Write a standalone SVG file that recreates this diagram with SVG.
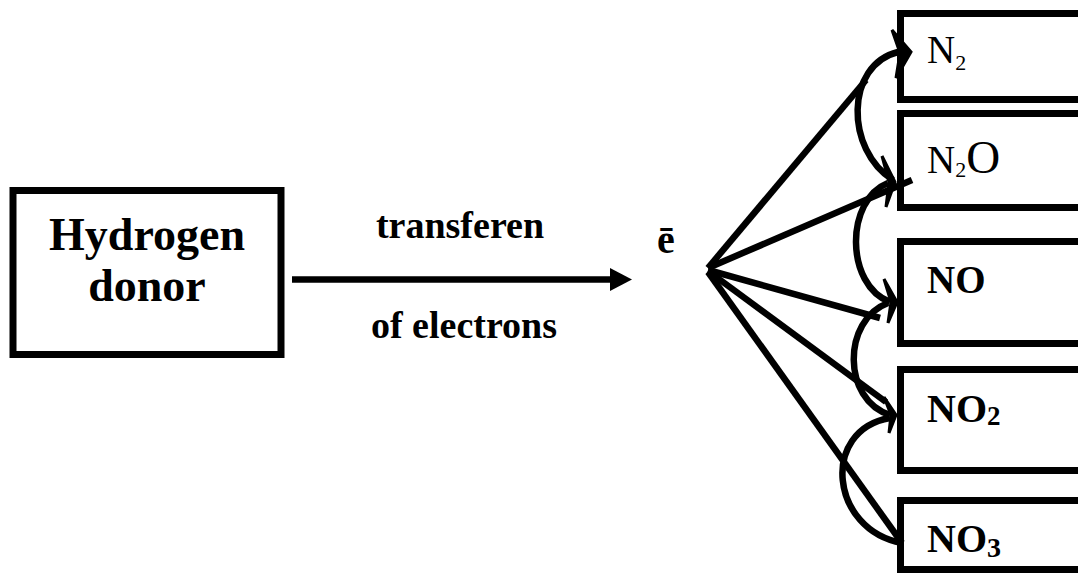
<svg xmlns="http://www.w3.org/2000/svg" width="1078" height="574" viewBox="0 0 1078 574">
<style>
.box{fill:#fff;stroke:#000;stroke-width:7}
.ln{fill:none;stroke:#000;stroke-width:6.5}
.ah{fill:#000;stroke:#000;stroke-width:3;stroke-linejoin:miter}
.t{font-family:"Liberation Serif","Times New Roman",serif;fill:#000}
.b{font-weight:bold}
</style>
<rect width="1078" height="574" fill="#fff"/>
<g id="hydrogen-donor">
<rect class="box" x="13" y="190.5" width="268" height="164" stroke-width="7.5"/>
<text class="t b" x="147" y="250" font-size="46" text-anchor="middle">Hydrogen</text>
<text class="t b" x="147" y="301" font-size="46" text-anchor="middle">donor</text>
</g>
<g id="n2">
<rect class="box" x="900.5" y="13.5" width="200" height="86"/>
<text class="t" x="927" y="63" font-size="39">N<tspan font-size="22" dy="7">2</tspan></text>
</g>
<g id="n2o">
<rect class="box" x="900.5" y="113.5" width="200" height="94"/>
<text class="t" x="927" y="173" font-size="39">N<tspan font-size="22" dy="4">2</tspan><tspan font-size="47" dy="-4">O</tspan></text>
</g>
<g id="no">
<rect class="box" x="900.5" y="241.5" width="200" height="102"/>
<text class="t b" x="927" y="293" font-size="39">NO</text>
</g>
<g id="no2">
<rect class="box" x="900.5" y="369.5" width="200" height="101"/>
<text class="t b" x="927" y="422" font-size="40">NO<tspan font-size="27" dy="3">2</tspan></text>
</g>
<g id="no3">
<rect class="box" x="900.5" y="500.5" width="200" height="69"/>
<text class="t b" x="927" y="552" font-size="40">NO<tspan font-size="28" dy="5">3</tspan></text>
</g>
<g id="labels">
<text class="t b" x="460" y="238" font-size="38" text-anchor="middle">transferen</text>
<text class="t b" x="464" y="338" font-size="38" text-anchor="middle">of electrons</text>
<text class="t b" x="666" y="253" font-size="40" text-anchor="middle">ē</text>
</g>
<g id="connectors">
<line class="ln" x1="292" y1="279.5" x2="612" y2="279.5"/>
<polygon points="610,268 632,279.5 610,291" fill="#000"/>
<line class="ln" x1="708" y1="268" x2="866" y2="80"/>
<line class="ln" x1="708" y1="268" x2="912" y2="180"/>
<line class="ln" x1="708" y1="270" x2="880" y2="318"/>
<line class="ln" x1="708" y1="271" x2="886" y2="402"/>
<line class="ln" x1="708" y1="272" x2="902" y2="543"/>
<path class="ln" d="M 893,180 C 845,150 845,65 898,52"/>
<path class="ln" d="M 890,302 C 845,285 845,200 888,183"/>
<path class="ln" d="M 890,415 C 842,400 842,320 888,303"/>
<path class="ln" d="M 902,543 C 830,530 820,430 890,418"/>
<polygon class="ah" points="892,30 911,52 896,78 900,53"/>
<polygon class="ah" points="882,156 895,182 886,207 889,182"/>
<polygon class="ah" points="884,279 897,302 888,323 891,302"/>
<polygon class="ah" points="884,397 896,415 889,433 891,415"/>
</g>
</svg>
